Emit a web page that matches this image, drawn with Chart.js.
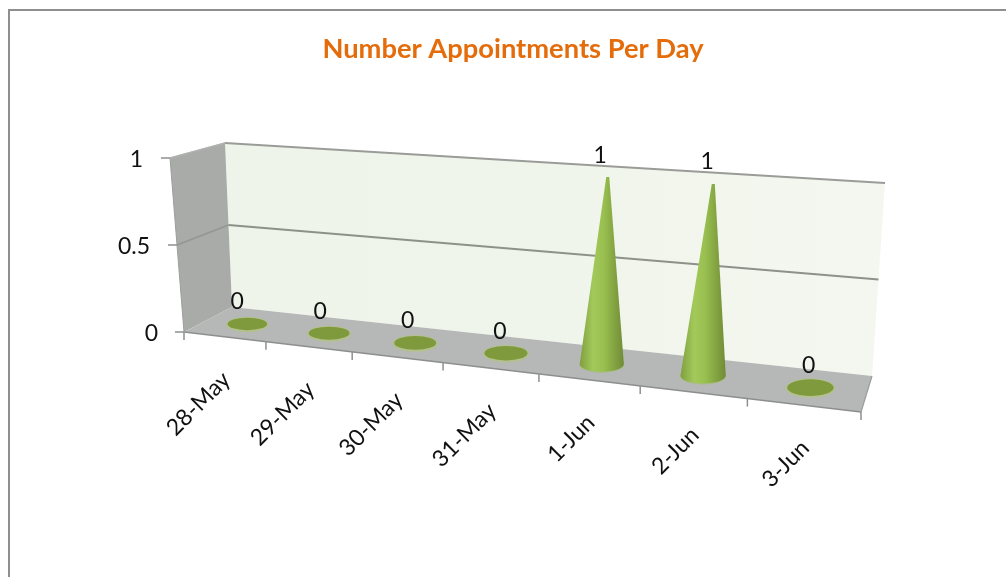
<!DOCTYPE html>
<html>
<head>
<meta charset="utf-8">
<style>html,body{margin:0;padding:0;background:#fff}canvas{display:block;filter:blur(0.35px)}</style>
<script src="https://cdn.jsdelivr.net/npm/chart.js@4"></script>
</head>
<body>
<div style="width:1006px;height:577px;overflow:hidden"><canvas id="c" width="1006" height="577"></canvas></div>
<script>
const categories = ['28-May','29-May','30-May','31-May','1-Jun','2-Jun','3-Jun'];
const appointments = [0,0,0,0,1,1,0];
const seriesName = 'Number Appointments Per Day';

// Projection of the box: normalised plot coords -> screen
const BOX = {
  fl:[184,332], fr:[861,412], bl:[232,307], br:[872,376],
  flT:[170,158], frT:[882,207], blT:[225,143], brT:[885,183], warp:1.21
};
const mix=(a,b,k)=>[a[0]+(b[0]-a[0])*k,a[1]+(b[1]-a[1])*k];
function project(u,v,d){
  const t=u/(u+BOX.warp*(1-u));
  const floor=mix(mix(BOX.fl,BOX.fr,t),mix(BOX.bl,BOX.br,t),d);
  const top=mix(mix(BOX.flT,BOX.frT,t),mix(BOX.blT,BOX.brT,t),d);
  return mix(floor,top,v);
}
function poly(ctx,pts,fill){
  ctx.beginPath();pts.forEach((p,i)=>i?ctx.lineTo(p[0],p[1]):ctx.moveTo(p[0],p[1]));ctx.closePath();
  if(fill){ctx.fillStyle=fill;ctx.fill();}
}
function line(ctx,a,b,col,w){
  ctx.beginPath();ctx.moveTo(a[0],a[1]);ctx.lineTo(b[0],b[1]);ctx.strokeStyle=col;ctx.lineWidth=w;ctx.stroke();
}
const uvOf=(chart,el)=>{
  const xs=chart.scales.x, ys=chart.scales.y;
  return {u:(el.x-xs.left)/xs.width, v:(ys.bottom-el.y)/ys.height};
};
const LABEL_FONT='23px Lato';

const box3d={
  id:'box3d',
  beforeDraw(chart){
    const ctx=chart.ctx;
    ctx.save();
    ctx.fillStyle='#fff';ctx.fillRect(0,0,chart.width,chart.height);
    ctx.strokeStyle='#8f8f8f';ctx.lineWidth=2;
    ctx.strokeRect(9,10,1100,700);
    ctx.restore();
  },
  beforeDatasetsDraw(chart){
    const ctx=chart.ctx, ys=chart.scales.y, xs=chart.scales.x;
    ctx.save();
    // back wall
    const g=ctx.createLinearGradient(225,0,885,0);
    g.addColorStop(0,'#eef4ea');g.addColorStop(.5,'#f0f5ec');g.addColorStop(1,'#f4f7ef');
    poly(ctx,[project(0,0,1),project(1,0,1),project(1,1,1),project(0,1,1)],g);
    // side wall
    poly(ctx,[project(0,0,0),project(0,0,1),project(0,1,1),project(0,1,0)],'#a8aba8');
    // floor
    poly(ctx,[project(0,0,0),project(1,0,0),project(1,0,1),project(0,0,1)],'#b5b8b6');
    line(ctx,project(0,0,0),project(1,0,0),'#8d8f8d',1.5);
    line(ctx,project(1,0,0),project(1,0,1),'#9a9c9a',1.2);
    line(ctx,project(0,1,0),project(0,1,1),'#b0b2b0',1.2);
    line(ctx,project(0,0,0),project(0,1,0),'#9c9f9c',1);
    // value gridlines and ticks
    ctx.font=LABEL_FONT;ctx.textAlign='right';ctx.textBaseline='middle';
    ys.ticks.forEach(tk=>{
      const v=(ys.bottom-ys.getPixelForValue(tk.value))/ys.height;
      const a=project(0,v,0), b=project(0,v,1), c=project(1,v,1);
      if(v>0){
        line(ctx,a,b,v<1?'#93978f':'#b0b2b0',1.5);
        line(ctx,b,c,v<1?'#8d918a':'#9a9c98',2);
      }
      line(ctx,[a[0]-9,a[1]],a,'#8f8f8f',1.5);
      ctx.fillStyle='#111';
      ctx.fillText(tk.label,a[0]-(v===1?25:v>0?27:26),a[1]+2);
    });
    // category ticks and labels
    const n=categories.length;
    for(let i=0;i<=n;i++){
      const p=project(i/n,0,0);
      line(ctx,p,[p[0],p[1]+8],'#8f8f8f',1.5);
    }
    xs.ticks.forEach((tk,i)=>{
      const u=(xs.getPixelForTick(i)-xs.left)/xs.width;
      const p=project(u,0,0);
      ctx.save();
      ctx.translate(p[0]+2,p[1]+39);ctx.rotate(-Math.PI/4);
      ctx.textAlign='right';ctx.textBaseline='middle';ctx.fillStyle='#111';
      ctx.fillText(tk.label,0,0);
      ctx.restore();
    });
    ctx.restore();
  },
  afterDatasetsDraw(chart){
    const ctx=chart.ctx, meta=chart.getDatasetMeta(0);
    ctx.save();
    meta.data.forEach((el,i)=>{
      const {u,v}=uvOf(chart,el);
      const c=project(u,0,.5);
      const rx=19.5+4*u, ry=6+2.5*u;
      if(v>0){
        const a=project(u,v,.5);
        // soft rim on the floor
        ctx.beginPath();ctx.ellipse(c[0],c[1]+.5,rx+.5,ry+.5,0,0,Math.PI*2);ctx.fillStyle='#aabb84';ctx.fill();
        const g=ctx.createLinearGradient(c[0]-rx,0,c[0]+rx,0);
        g.addColorStop(0,'#7f9f3f');g.addColorStop(.3,'#a3c95b');g.addColorStop(.55,'#98bf4f');g.addColorStop(.85,'#7e9c3e');g.addColorStop(1,'#6f8c36');
        ctx.beginPath();
        ctx.moveTo(a[0]-1.5,a[1]);ctx.lineTo(a[0]+1.5,a[1]);
        ctx.lineTo(c[0]+rx,c[1]);
        ctx.ellipse(c[0],c[1],rx,ry,0,0,Math.PI);
        ctx.closePath();
        ctx.fillStyle=g;ctx.fill();
      }else{
        ctx.beginPath();ctx.ellipse(c[0],c[1]+.5,rx+1.5,ry+1.5,0,0,Math.PI*2);ctx.fillStyle='#b4c08e';ctx.fill();
        ctx.beginPath();ctx.ellipse(c[0],c[1],rx,ry,0,0,Math.PI*2);ctx.fillStyle='#7f9a3c';ctx.fill();
      }
      // value label
      const top=v>0?project(u,v,.5):c;
      ctx.font=LABEL_FONT;ctx.fillStyle='#111';ctx.textAlign='center';ctx.textBaseline='middle';
      ctx.fillText(String(appointments[i]),top[0]-11+10*u-(v>0?3:0),top[1]-22);
    });
    ctx.restore();
  }
};

new Chart(document.getElementById('c'),{
  type:'bar',
  data:{labels:categories,datasets:[{label:seriesName,data:appointments,backgroundColor:'transparent',borderWidth:0}]},
  plugins:[box3d],
  options:{
    responsive:false,animation:false,
    layout:{padding:{left:20,right:0,top:0,bottom:245}},
    plugins:{
      legend:{display:false},tooltip:{enabled:false},
      title:{display:true,text:'Number Appointments Per Day',color:'#e46c0a',
        font:{family:'Lato',size:27.3,weight:'bold'},padding:{top:33,bottom:92.2}}
    },
    scales:{
      x:{ticks:{display:false},grid:{display:false},border:{display:false},afterFit(s){s.height=0;}},
      y:{min:0,max:1,ticks:{display:false,stepSize:.5,callback:v=>String(v)},grid:{display:false},border:{display:false},afterFit(s){s.width=0;}}
    }
  }
});
</script>
</body>
</html>
